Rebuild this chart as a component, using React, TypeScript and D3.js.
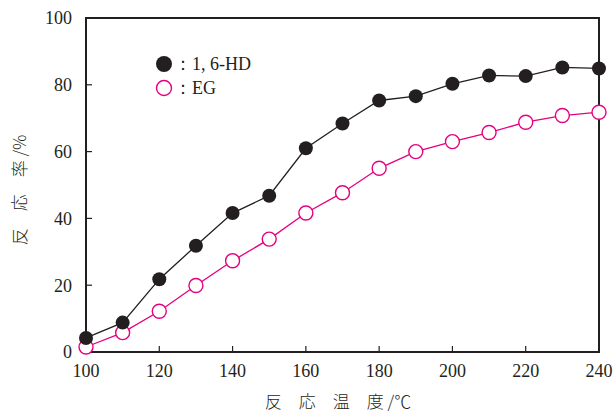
import React from "react";
import * as d3 from "d3";

const temps = [100, 110, 120, 130, 140, 150, 160, 170, 180, 190, 200, 210, 220, 230, 240];
const hdValues = [4.2, 8.8, 21.8, 31.8, 41.6, 46.8, 61, 68.4, 75.3, 76.6, 80.3, 82.8, 82.6, 85.2, 84.9];
const egValues = [1.5, 5.8, 12.2, 19.9, 27.3, 33.8, 41.6, 47.7, 55, 60, 63, 65.7, 68.8, 70.8, 71.8];
const xTicks = [100, 120, 140, 160, 180, 200, 220, 240];
const yTicks = [0, 20, 40, 60, 80, 100];
const seriesNames = ["：1, 6-HD", "：EG"];

const W = 616, H = 414;
const M = { left: 86, right: 599, top: 18, bottom: 352 };
const BLACK = "#231f20";
const PINK = "#e5007f";
const SERIF = "'Liberation Serif', 'DejaVu Serif', serif";
const CJK = "'Noto Sans CJK JP', sans-serif";

export default function App() {
  const x = d3.scaleLinear().domain([100, 240]).range([M.left, M.right]);
  const y = d3.scaleLinear().domain([0, 100]).range([M.bottom, M.top]);
  const line = d3.line<number>().x((_, i) => x(temps[i])).y((d) => y(d));
  const r = 7;
  return (
    <svg width={W} height={H} style={{ position: "absolute", left: 0, top: 0 }}>
      <rect x={0} y={0} width={W} height={H} fill="#fff" />
      {yTicks.filter((t) => t > 0 && t < 100).map((t) => (
        <line key={"yt" + t} x1={M.left} x2={M.left + 6} y1={y(t)} y2={y(t)} stroke={BLACK} strokeWidth={1.2} />
      ))}
      {xTicks.filter((t) => t > 100 && t < 240).map((t) => (
        <line key={"xt" + t} x1={x(t)} x2={x(t)} y1={M.bottom} y2={M.bottom - 6} stroke={BLACK} strokeWidth={1.2} />
      ))}
      <rect x={M.left} y={M.top} width={M.right - M.left} height={M.bottom - M.top} fill="none" stroke={BLACK} strokeWidth={2} />
      {yTicks.map((t) => (
        <text key={"yl" + t} x={72} y={y(t)} dy="0.35em" textAnchor="end" fontFamily={SERIF} fontSize={18} fill={BLACK}>{t}</text>
      ))}
      {xTicks.map((t) => (
        <text key={"xl" + t} x={x(t)} y={377} textAnchor="middle" fontFamily={SERIF} fontSize={18} fill={BLACK}>{t}</text>
      ))}
      <text x={338} y={408} textAnchor="middle" fontFamily={CJK} fontWeight={300} fontSize={17} fill={BLACK} style={{ whiteSpace: "pre" }}>
        反　応　温　度 /℃
      </text>
      <text transform={`translate(26,${190}) rotate(-90)`} textAnchor="middle" fontFamily={CJK} fontWeight={300} fontSize={17} fill={BLACK} style={{ whiteSpace: "pre" }}>
        反　応　率 /%
      </text>
      <path d={line(egValues) || ""} fill="none" stroke={PINK} strokeWidth={1.3} />
      <path d={line(hdValues) || ""} fill="none" stroke={BLACK} strokeWidth={1.3} />
      {egValues.map((v, i) => (
        <circle key={"eg" + i} cx={x(temps[i])} cy={y(v)} r={r} fill="#fff" stroke={PINK} strokeWidth={1.4} />
      ))}
      {hdValues.map((v, i) => (
        <circle key={"hd" + i} cx={x(temps[i])} cy={y(v)} r={r} fill={BLACK} />
      ))}
      <circle cx={164} cy={64} r={8} fill={BLACK} />
      <text x={174} y={70} fontFamily={SERIF} fontSize={18} fill={BLACK}>{seriesNames[0]}</text>
      <circle cx={164} cy={88} r={7.5} fill="#fff" stroke={PINK} strokeWidth={1.4} />
      <text x={174} y={94} fontFamily={SERIF} fontSize={18} fill={BLACK}>{seriesNames[1]}</text>
    </svg>
  );
}
